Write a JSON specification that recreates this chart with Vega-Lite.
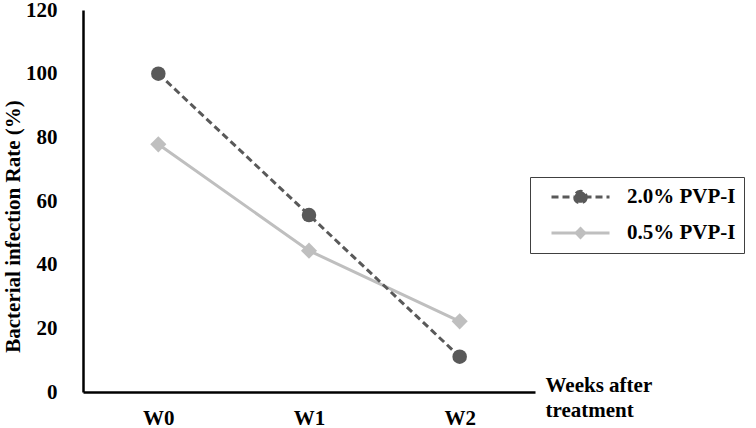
{
  "$schema": "https://vega.github.io/schema/vega-lite/v6.json",
  "autosize": {"type": "none"},
  "padding": {"left": 83, "top": 10, "right": 221, "bottom": 36},
  "width": 452,
  "height": 382,
  "background": "white",
  "config": {
    "view": {"stroke": null},
    "font": "'Liberation Serif', 'DejaVu Serif', serif"
  },
  "data": {
    "values": [
      {"week": "W0", "series": "0.5% PVP-I", "rate": 77.8},
      {"week": "W1", "series": "0.5% PVP-I", "rate": 44.4},
      {"week": "W2", "series": "0.5% PVP-I", "rate": 22.2},
      {"week": "W0", "series": "2.0% PVP-I", "rate": 100},
      {"week": "W1", "series": "2.0% PVP-I", "rate": 55.6},
      {"week": "W2", "series": "2.0% PVP-I", "rate": 11.1}
    ]
  },
  "encoding": {
    "x": {
      "field": "week", "type": "ordinal",
      "scale": {"type": "point", "padding": 0.5},
      "axis": {
        "title": ["Weeks after", "treatment"],
        "titleFont": "'Liberation Serif', 'DejaVu Serif', serif", "titleFontSize": 21, "titleFontWeight": "bold", "titleColor": "black",
        "titleX": 462, "titleY": -18, "titleAlign": "left", "titleBaseline": "top", "titleLineHeight": 25, "titleAngle": 0,
        "labelAngle": 0, "labelFont": "'Liberation Serif', 'DejaVu Serif', serif", "labelFontSize": 21, "labelFontWeight": "bold", "labelColor": "black",
        "labelPadding": 15, "ticks": false, "domainColor": "black", "domainWidth": 2.5, "grid": false
      }
    },
    "y": {
      "field": "rate", "type": "quantitative",
      "scale": {"domain": [0, 120]},
      "axis": {
        "title": "Bacterial infection Rate (%)",
        "titleFont": "'Liberation Serif', 'DejaVu Serif', serif", "titleFontSize": 21, "titleFontWeight": "bold", "titleColor": "black",
        "titleX": -70, "titleY": 216, "titleAngle": -90, "titleAlign": "center", "titleBaseline": "middle",
        "values": [0, 20, 40, 60, 80, 100, 120],
        "labelFont": "'Liberation Serif', 'DejaVu Serif', serif", "labelFontSize": 21, "labelFontWeight": "bold", "labelColor": "black",
        "labelPadding": 26, "ticks": false, "domainColor": "black", "domainWidth": 2.5, "grid": false
      }
    },
    "color": {
      "field": "series", "type": "nominal",
      "scale": {"domain": ["2.0% PVP-I", "0.5% PVP-I"], "range": ["#595959", "#bfbfbf"]},
      "legend": {
        "title": null, "orient": "none", "legendX": 447, "legendY": 167,
        "strokeColor": "#404040", "padding": 8,
        "labelFont": "'Liberation Serif', 'DejaVu Serif', serif", "labelFontSize": 21, "labelFontWeight": "bold", "labelColor": "black",
        "symbolSize": 3364, "clipHeight": 24, "rowPadding": 12, "symbolOffset": 12, "labelOffset": 16,
        "symbolStrokeWidth": 3,
        "encode": {
          "symbols": {
            "update": {
              "shape": {"signal": "datum.value === '2.0% PVP-I' ? 'M-1,0H1M0.2,0A0.2,0.2,0,1,1,-0.2,0A0.2,0.2,0,1,1,0.2,0Z' : 'M-1,0H1M0,-0.15L0.15,0L0,0.15L-0.15,0Z'"},
              "strokeDash": {"signal": "datum.value === '2.0% PVP-I' ? [7,4] : [1,0]"},
              "fill": {"signal": "datum.value === '2.0% PVP-I' ? '#595959' : '#bfbfbf'"},
              "stroke": {"signal": "datum.value === '2.0% PVP-I' ? '#595959' : '#bfbfbf'"},
              "opacity": {"value": 1}
            }
          }
        }
      }
    }
  },
  "layer": [
    {
      "transform": [{"filter": "datum.series === '0.5% PVP-I'"}],
      "mark": {"type": "line", "strokeWidth": 3}
    },
    {
      "transform": [{"filter": "datum.series === '2.0% PVP-I'"}],
      "mark": {"type": "line", "strokeWidth": 3, "strokeDash": [7, 4]}
    },
    {
      "transform": [{"filter": "datum.series === '0.5% PVP-I'"}],
      "mark": {"type": "point", "filled": true, "opacity": 1, "shape": "diamond", "size": 260}
    },
    {
      "transform": [{"filter": "datum.series === '2.0% PVP-I'"}],
      "mark": {"type": "point", "filled": true, "opacity": 1, "shape": "circle", "size": 210}
    }
  ]
}
